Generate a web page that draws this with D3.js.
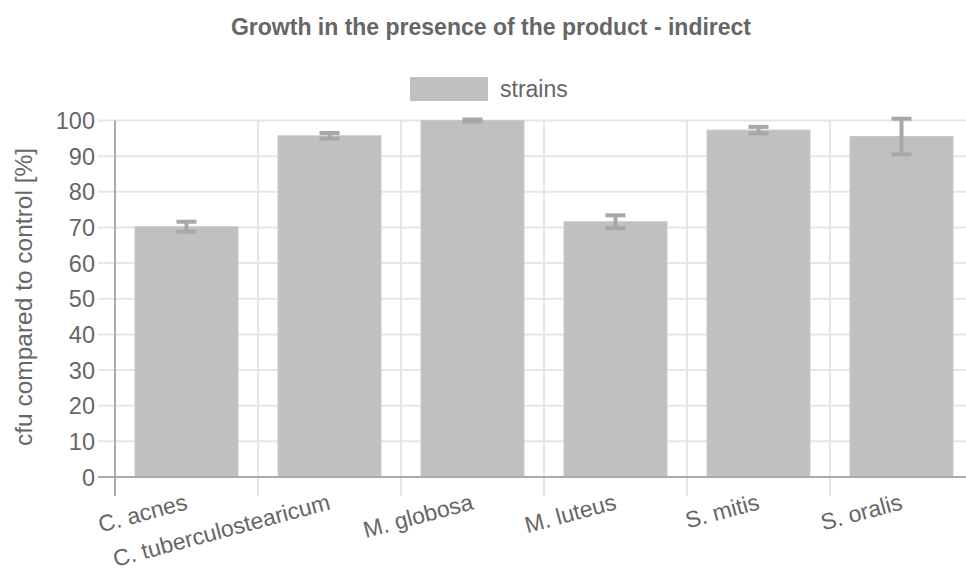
<!DOCTYPE html>
<html>
    <head>
        <meta charset="utf-8" />
        <script src="https://d3js.org/d3.v7.min.js"></script>
        <style>
            body { margin: 0; background: #fff; }
            svg { display: block; font-family: 'Liberation Sans', Arial, sans-serif; }
        </style>
    </head>
    <body>
        <svg width="966" height="571"></svg>
        <script>
            const strains = ['C. acnes', 'C. tuberculostearicum', 'M. globosa', 'M. luteus', 'S. mitis', 'S. oralis']
            const growth = [70.2, 95.7, 100, 71.6, 97.3, 95.5]
            const errors = [1.4, 0.8, 0.3, 1.8, 0.9, 5.0]
            const yTicks = [0, 10, 20, 30, 40, 50, 60, 70, 80, 90, 100]

            const svg = d3.select('svg')
            const textColor = '#666'
            const gridColor = '#e6e6e6'

            const x = d3.scaleBand().domain(strains).range([115, 973]).paddingInner(0.28).paddingOuter(0.14)
            const y = d3.scaleLinear().domain([0, 100]).range([477, 120.5])
            const step = x.step()

            // title
            svg.append('text')
                .attr('x', 491).attr('y', 35)
                .attr('text-anchor', 'middle')
                .style('font-size', '23px').style('font-weight', 'bold')
                .style('fill', textColor)
                .text('Growth in the presence of the product - indirect')

            // legend
            svg.append('rect')
                .attr('x', 410).attr('y', 77).attr('width', 78).attr('height', 24)
                .style('fill', '#c0c0c0')
            svg.append('text')
                .attr('x', 500).attr('y', 97)
                .style('font-size', '23px').style('fill', textColor)
                .text('strains')

            // horizontal grid + y ticks
            svg.append('g').selectAll('line').data(yTicks).enter().append('line')
                .attr('x1', 98).attr('x2', 966)
                .attr('y1', (d) => y(d)).attr('y2', (d) => y(d))
                .style('stroke', (d) => (d === 0 ? '#aaa' : gridColor))
                .style('stroke-width', 2)
            svg.append('g').selectAll('text').data(yTicks).enter().append('text')
                .attr('x', 95).attr('y', (d) => y(d) + 8.5)
                .attr('text-anchor', 'end')
                .style('font-size', '23.5px').style('fill', textColor)
                .text((d) => d)

            // vertical grid (category boundaries)
            const bounds = strains.map((s) => x(s) - x.paddingOuter() * step)
            svg.append('g').selectAll('line').data(bounds).enter().append('line')
                .attr('x1', (d) => d).attr('x2', (d) => d)
                .attr('y1', y(100)).attr('y2', 496)
                .style('stroke', (d, i) => (i === 0 ? '#aaa' : gridColor))
                .style('stroke-width', 2)

            // bars
            svg.append('g').selectAll('rect').data(strains).enter().append('rect')
                .attr('x', (d) => x(d))
                .attr('width', x.bandwidth())
                .attr('y', (d, i) => y(growth[i]))
                .attr('height', (d, i) => y(0) - y(growth[i]))
                .style('fill', '#c0c0c0')
                .style('stroke', '#c8c8c8')
                .style('stroke-width', 1)

            // re-draw zero line over bars
            svg.append('line')
                .attr('x1', 98).attr('x2', 966).attr('y1', y(0)).attr('y2', y(0))
                .style('stroke', '#aaa').style('stroke-width', 2)

            // error bars
            const eb = svg.append('g').selectAll('g').data(strains).enter().append('g')
                .style('stroke', '#a8a8a8').style('stroke-width', 4)
            eb.append('line')
                .attr('x1', (d) => x(d) + x.bandwidth() / 2).attr('x2', (d) => x(d) + x.bandwidth() / 2)
                .attr('y1', (d, i) => y(growth[i] + errors[i])).attr('y2', (d, i) => y(growth[i] - errors[i]))
            eb.append('line')
                .attr('x1', (d) => x(d) + x.bandwidth() / 2 - 10).attr('x2', (d) => x(d) + x.bandwidth() / 2 + 10)
                .attr('y1', (d, i) => y(growth[i] + errors[i])).attr('y2', (d, i) => y(growth[i] + errors[i]))
            eb.append('line')
                .attr('x1', (d) => x(d) + x.bandwidth() / 2 - 10).attr('x2', (d) => x(d) + x.bandwidth() / 2 + 10)
                .attr('y1', (d, i) => y(growth[i] - errors[i])).attr('y2', (d, i) => y(growth[i] - errors[i]))

            // x labels, right-aligned at category centre, rotated
            svg.append('g').selectAll('text').data(strains).enter().append('text')
                .attr('transform', (d) => `translate(${x(d) + x.bandwidth() / 2 + 2},${509}) rotate(-15)`)
                .attr('text-anchor', 'end')
                .style('font-size', '23px').style('fill', textColor)
                .text((d) => d)

            // y axis title
            svg.append('text')
                .attr('transform', 'translate(32,297) rotate(-90)')
                .attr('text-anchor', 'middle')
                .style('font-size', '24.5px').style('fill', textColor)
                .text('cfu compared to control [%]')
        </script>
    </body>
</html>
